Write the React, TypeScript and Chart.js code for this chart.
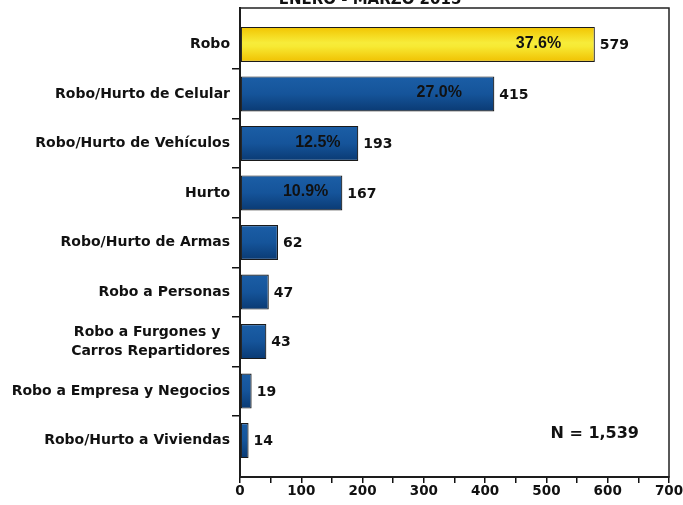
import React, { useEffect, useRef } from 'react';
import { Chart, registerables } from 'chart.js';

Chart.register(...registerables);

const categories: (string | string[])[] = [
  'Robo',
  'Robo/Hurto de Celular',
  'Robo/Hurto de Vehículos',
  'Hurto',
  'Robo/Hurto de Armas',
  'Robo a Personas',
  ['Robo a Furgones y  ', 'Carros Repartidores'],
  'Robo a Empresa y Negocios',
  'Robo/Hurto a Viviendas',
];
const values = [579, 415, 193, 167, 62, 47, 43, 19, 14];
const percentLabels = ['37.6%', '27.0%', '12.5%', '10.9%', '', '', '', '', ''];
const percentLabelPos = [487, 325, 127, 107, 0, 0, 0, 0, 0];
const titleText = 'ENERO - MARZO 2015';
const totalText = 'N = 1,539';
const xMax = 700;
const xStep = 50;
const xLabelStep = 100;

const FONT = "'DejaVu Sans', Verdana, sans-serif";
const BAR_PCT = 0.71;

function barGradient(ctx: any) {
  const chart = ctx.chart;
  const i = ctx.dataIndex;
  const isFirst = i === 0;
  const edge = isFirst ? '#f0c000' : '#0b3c76';
  const y = chart.scales && chart.scales.y;
  if (!y || ctx.type !== 'data' || !isFinite(y.getPixelForValue(i))) return edge;
  const c = y.getPixelForValue(i);
  const sp = Math.abs(y.getPixelForValue(1) - y.getPixelForValue(0)) || 50;
  const h = sp * BAR_PCT;
  const g = chart.ctx.createLinearGradient(0, c - h / 2, 0, c + h / 2);
  if (isFirst) {
    g.addColorStop(0, '#f2c400');
    g.addColorStop(0.45, '#f7ec3a');
    g.addColorStop(0.55, '#f7ea34');
    g.addColorStop(1, '#f0c000');
  } else {
    g.addColorStop(0, '#1b5ea6');
    g.addColorStop(0.5, '#15549a');
    g.addColorStop(1, '#0a3a73');
  }
  return g;
}

const labelsPlugin = {
  id: 'customLabels',
  afterDatasetsDraw(chart: any) {
    const { ctx, chartArea, scales } = chart;
    const meta = chart.getDatasetMeta(0);
    ctx.save();
    // frame
    ctx.strokeStyle = '#222';
    ctx.lineWidth = 1.5;
    ctx.strokeRect(chartArea.left, chartArea.top, chartArea.right - chartArea.left, chartArea.bottom - chartArea.top);
    meta.data.forEach((bar: any, i: number) => {
      ctx.fillStyle = '#111';
      ctx.font = `bold 14px ${FONT}`;
      ctx.textAlign = 'left';
      ctx.textBaseline = 'middle';
      ctx.fillText(String(values[i]), bar.x + 5, bar.y + 1);
      if (percentLabels[i]) {
        ctx.font = "bold 16px 'Liberation Sans', Arial, sans-serif";
        ctx.textAlign = 'center';
        ctx.fillText(percentLabels[i], scales.x.getPixelForValue(percentLabelPos[i]), bar.y - 1);
      }
    });
    // total
    ctx.font = `bold 16px ${FONT}`;
    ctx.textAlign = 'right';
    ctx.textBaseline = 'middle';
    ctx.fillStyle = '#111';
    ctx.fillText(totalText, chartArea.right - 30, scales.y.getPixelForValue(8) - 7);
    // title (cut off at the top)
    ctx.font = `bold 15px ${FONT}`;
    ctx.textAlign = 'center';
    ctx.textBaseline = 'alphabetic';
    ctx.fillText(titleText, 370, 4);
    ctx.restore();
  },
};

export default function App() {
  const ref = useRef<HTMLCanvasElement>(null);
  useEffect(() => {
    if (!ref.current) return;
    const chart = new Chart(ref.current, {
      type: 'bar',
      data: {
        labels: categories as any,
        datasets: [
          {
            data: values,
            backgroundColor: barGradient as any,
            borderColor: '#1a1a1a',
            borderWidth: 1.2,
            borderSkipped: false,
            categoryPercentage: 1,
            barPercentage: BAR_PCT,
          },
        ],
      },
      options: {
        indexAxis: 'y',
        animation: false,
        responsive: true,
        maintainAspectRatio: false,
        layout: { padding: { top: 8, right: 14, left: 0, bottom: 0 } },
        plugins: { legend: { display: false }, tooltip: { enabled: false }, title: { display: false } },
        scales: {
          x: {
            type: 'linear',
            min: 0,
            max: xMax,
            afterFit: (s: any) => { s.height = 28; s.paddingLeft = 0; s.paddingRight = 0; },
            ticks: {
              stepSize: xStep,
              autoSkip: false,
              maxRotation: 0,
              padding: 0,
              color: '#111',
              font: { family: FONT, size: 13.5, weight: 'bold' },
              callback: (v: any) => (Number(v) % xLabelStep === 0 ? String(v) : ''),
            },
            grid: { drawOnChartArea: false, drawTicks: true, tickLength: 6, color: '#111', lineWidth: 1.5 },
            border: { color: '#111', width: 2 },
          },
          y: {
            type: 'category',
            afterFit: (s: any) => { s.width = 240; s.paddingTop = 0; s.paddingBottom = 0; },
            afterBuildTicks: (s: any) => {
              s._startValue -= 0.237;
              s._valueRange += 0.474;
            },
            ticks: {
              color: '#111',
              padding: 2,
              autoSkip: false,
              font: { family: FONT, size: 14, weight: 'bold', lineHeight: 1.35 },
            },
            grid: {
              offset: true,
              drawOnChartArea: false,
              drawTicks: true,
              tickLength: 8,
              lineWidth: 1.5,
              color: (c: any) => (c.index === undefined || c.index === 0 ? 'rgba(0,0,0,0)' : '#111'),
            },
            border: { color: '#111', width: 2 },
          },
        },
      },
      plugins: [labelsPlugin],
    });
    return () => chart.destroy();
  }, []);
  return (
    <div style={{ position: 'absolute', left: 0, top: 0, width: 683, height: 505, background: '#fff' }}>
      <canvas ref={ref} />
    </div>
  );
}
